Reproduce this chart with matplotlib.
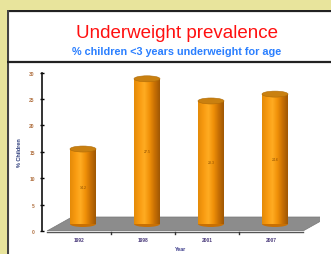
import numpy as np
import matplotlib
matplotlib.use('Agg')
import matplotlib.pyplot as plt
from matplotlib.patches import Rectangle, Ellipse, Polygon
from matplotlib.colors import LinearSegmentedColormap

years = ['1992', '1998', '2001', '2007']
underweight = [14.2, 27.5, 23.3, 24.6]
y_ticks = [0, 5, 10, 15, 20, 25, 30]

W, H = 331, 255
plt.rcParams['font.family'] = ['Liberation Sans', 'DejaVu Sans']
fig = plt.figure(figsize=(W / 100, H / 100), dpi=100)
fig.patch.set_facecolor('#e8e49c')

# white panel with dark top/left border
bg = fig.add_axes([7 / W, 0, 1 - 7 / W, 1 - 11 / H], zorder=0)
bg.set_xlim(7, W)
bg.set_ylim(H, 11)
bg.axis('off')
bg.add_patch(Rectangle((7, 11), W, H, fc='white', ec='none'))
bg.plot([7, W], [12, 12], color='#222222', lw=1.6)
bg.plot([8, 8], [11, H], color='#444444', lw=1.5)
bg.plot([7, W], [63, 63], color='#222222', lw=1.6)

fig.text(177 / W, 1 - 34 / H, 'Underweight prevalence', color='#ff1010',
         fontsize=13.5, ha='center', va='center')
fig.text(177 / W, 1 - 52 / H, '% children <3 years underweight for age', color='#2a7fff',
         fontsize=7.8, fontweight='bold', ha='center', va='center')

# axes geometry in pixels
px_per_cat = 64.0
px_per_unit = 5.28
x0_px, ax_left_px, ax_right_px = 47, 42, 320
y0_px, ax_top_px = 232, 73.6
ax = fig.add_axes([ax_left_px / W, 1 - y0_px / H,
                   (ax_right_px - ax_left_px) / W, (y0_px - ax_top_px) / H], zorder=2)
xmin = (ax_left_px - x0_px) / px_per_cat
xmax = (ax_right_px - x0_px) / px_per_cat
ax.set_facecolor('none')

# floor
dx_back, dy_back = 25 / px_per_cat, 14 / px_per_unit
n = len(years)
ax.add_patch(Polygon([(0, 0), (n, 0), (n + dx_back, dy_back), (dx_back, dy_back)],
                     closed=True, fc='#8c8c8c', ec='#777777', lw=0.5, zorder=1))
ax.plot([n + dx_back, n + dx_back], [dy_back, 30], color='#e6e6e6', lw=0.6, zorder=0.5)

# x axis line under floor
ax.plot([0, n], [-0.15, -0.15], color='#555555', lw=1.0, clip_on=False, zorder=2)
for i in range(1, n):
    ax.plot([i, i], [-0.15, -0.6], color='#333333', lw=1.0, clip_on=False, zorder=2)

cmap = LinearSegmentedColormap.from_list('cyl', ['#e48a08', '#f89a10', '#ffac22',
                                                 '#f09008', '#c87004', '#a05804'])
grad = np.linspace(0, 1, 64).reshape(1, -1)
bw = 26 / px_per_cat
off_x, base = 4 / px_per_cat, 7 / px_per_unit
eh = 6 / px_per_unit
for i, v in enumerate(underweight):
    xc = i + 0.5 + off_x
    top = base + v
    ax.add_patch(Ellipse((xc, base), bw, eh, fc='#c87004', ec='none', zorder=3))
    rect = Rectangle((xc - bw / 2, base), bw, v, fc='none', ec='none')
    ax.add_patch(rect)
    im = ax.imshow(grad, extent=[xc - bw / 2, xc + bw / 2, base, top], aspect='auto',
                   cmap=cmap, zorder=3.5, interpolation='bilinear')
    im.set_clip_path(rect)
    ax.add_patch(Ellipse((xc, top), bw, eh, fc='#c98010', ec='#b06c08', lw=0.4, zorder=4))
    ax.text(xc, base + v / 2, f'{v:.1f}', fontsize=2.5, color='#8a4c00',
            ha='center', va='center', zorder=5)

ax.set_xlim(xmin, xmax)
ax.set_ylim(0, 30)
ax.set_xticks([i + 0.5 for i in range(n)])
ax.set_xticklabels(years, fontsize=3.5, color='#4a3a7a', fontweight='bold')
ax.set_yticks(y_ticks)
ax.set_yticklabels([str(t) for t in y_ticks], fontsize=3.5, color='#b07040', fontweight='bold')
ax.tick_params(axis='x', length=0, pad=4.5)
ax.tick_params(axis='y', direction='inout', length=2.5, width=1.0, pad=4)
for s in ['top', 'right', 'bottom']:
    ax.spines[s].set_visible(False)
ax.spines['left'].set_linewidth(1.2)
ax.spines['left'].set_color('#111111')
ax.set_xlabel('Year', fontsize=3.8, fontweight='bold', color='#3a3a8a', labelpad=3)
ax.set_ylabel('% Children', fontsize=4, fontweight='bold', color='#2a3a7a', labelpad=5)

fig.savefig('out.png', dpi=100)
